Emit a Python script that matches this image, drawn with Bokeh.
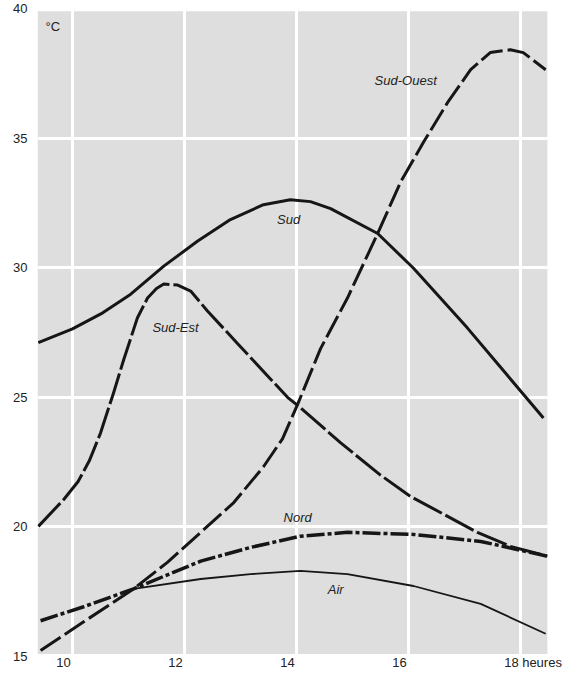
from bokeh.plotting import figure
from bokeh.models import Label, FixedTicker, Range1d, BoxAnnotation, ColumnDataSource
from bokeh.embed import file_html
from bokeh.resources import INLINE

# ---- data (hours, °C) ----
sud_h = [9.39, 10.0, 10.54, 11.04, 11.63, 12.23, 12.82, 13.41, 13.89, 14.25, 14.61, 15.45, 16.09, 17.05, 18.41]
sud_t = [27.11, 27.64, 28.26, 28.98, 30.06, 31.02, 31.86, 32.43, 32.62, 32.55, 32.28, 31.32, 29.98, 27.68, 24.2]

sudest_h = [9.39, 9.84, 10.1, 10.3, 10.5, 10.73, 10.91, 11.16, 11.34, 11.5, 11.63, 11.88, 12.11, 12.41, 12.95, 13.84, 14.02, 14.79, 15.5, 16.04, 17.23, 17.82, 18.48]
sudest_t = [20.02, 21.05, 21.75, 22.55, 23.62, 25.15, 26.42, 28.07, 28.83, 29.2, 29.37, 29.33, 29.1, 28.33, 27.07, 25.0, 24.69, 23.24, 22.0, 21.17, 19.79, 19.25, 18.87]

sudouest_h = [9.43, 10.2, 11.09, 11.7, 12.29, 12.88, 13.41, 13.75, 14.02, 14.43, 14.91, 15.45, 15.86, 16.27, 16.7, 17.11, 17.46, 17.82, 18.05, 18.45]
sudouest_t = [15.23, 16.34, 17.61, 18.64, 19.79, 20.94, 22.32, 23.4, 24.73, 26.88, 28.83, 31.32, 33.31, 34.85, 36.38, 37.64, 38.3, 38.41, 38.3, 37.64]

nord_h = [9.43, 10.2, 11.09, 12.29, 13.18, 14.07, 14.91, 16.09, 17.29, 18.48]
nord_t = [16.38, 16.92, 17.61, 18.68, 19.21, 19.64, 19.79, 19.71, 19.44, 18.87]

air_h = [11.09, 12.29, 13.18, 14.07, 14.91, 16.09, 17.29, 18.45]
air_t = [17.61, 17.99, 18.18, 18.3, 18.18, 17.72, 17.03, 15.88]

x_ticks = [10, 12, 14, 16, 18]
x_tick_labels = ["10", "12", "14", "16", "18"]
y_ticks = [15, 20, 25, 30, 35, 40]

series_names = ["Sud-Ouest", "Sud", "Sud-Est", "Nord", "Air"]
name_h = [15.95, 13.86, 11.84, 14.02, 14.7]
name_t = [37.22, 31.86, 27.68, 20.36, 17.6]

FONT = "Liberation Sans"
INK = "#161616"
TXT = "#222222"

# plotting area (gray panel) in data units
X0, X1 = 9.375, 18.48
Y0, Y1 = 15.1, 39.9
LABEL_ROW = 14.77   # vertical position of the hour labels, below the panel

p = figure(width=565, height=670, output_backend="svg", toolbar_location=None,
           x_axis_location=None,
           x_range=Range1d(X0, 18.804), y_range=Range1d(14.46, 40.31),
           min_border_left=37, min_border_right=0, min_border_top=0, min_border_bottom=0)

p.background_fill_color = "white"
p.border_fill_color = "white"
p.outline_line_color = None

p.add_layout(BoxAnnotation(left=X0, right=X1, bottom=Y0, top=Y1, fill_color="#dedede",
                           fill_alpha=1.0, line_color=None, level="image"))

yax = p.yaxis[0]
yax.axis_line_color = None
yax.major_tick_line_color = None
yax.minor_tick_line_color = None
yax.major_tick_out = 0
yax.major_tick_in = 0
yax.major_label_text_font = FONT
yax.major_label_text_font_size = "13px"
yax.major_label_text_color = TXT
yax.major_label_standoff = 10
yax.ticker = FixedTicker(ticks=y_ticks)

p.xgrid[0].ticker = FixedTicker(ticks=x_ticks)
p.ygrid[0].ticker = FixedTicker(ticks=y_ticks)
p.grid.grid_line_color = "white"
p.grid.grid_line_width = 3
p.grid.grid_line_alpha = 1.0

p.line(sud_h, sud_t, line_color=INK, line_width=3, line_join="round")
p.line(sudest_h, sudest_t, line_color=INK, line_width=3, line_dash="32 4", line_join="round")
p.line(sudouest_h, sudouest_t, line_color=INK, line_width=3, line_dash="24 5", line_join="round")
p.line(nord_h, nord_t, line_color=INK, line_width=3.5, line_dash="18 3 4 3", line_join="round")
p.line(air_h, air_t, line_color=INK, line_width=1.8, line_join="round")

# hour labels (drawn under the panel, beside "heures")
xl = ColumnDataSource(dict(x=x_ticks, y=[LABEL_ROW] * len(x_ticks), t=x_tick_labels))
p.text(x="x", y="y", text="t", source=xl, x_offset=-9, text_align="center",
       text_baseline="middle", text_font={"value": FONT}, text_font_size="13px", text_color=TXT)

for name, hx, ty in zip(series_names, name_h, name_t):
    p.add_layout(Label(x=hx, y=ty, text=name, text_align="center", text_baseline="middle",
                       text_font=FONT, text_font_size="13px", text_font_style="italic",
                       text_color=TXT))

p.add_layout(Label(x=9.52, y=39.31, text="°C", text_align="left", text_baseline="middle",
                   text_font=FONT, text_font_size="13px", text_color=TXT))
p.add_layout(Label(x=18.03, y=LABEL_ROW, text="heures", text_align="left", text_baseline="middle",
                   text_font=FONT, text_font_size="13px", text_color=TXT))

open("out.html", "w").write(file_html(p, INLINE))
